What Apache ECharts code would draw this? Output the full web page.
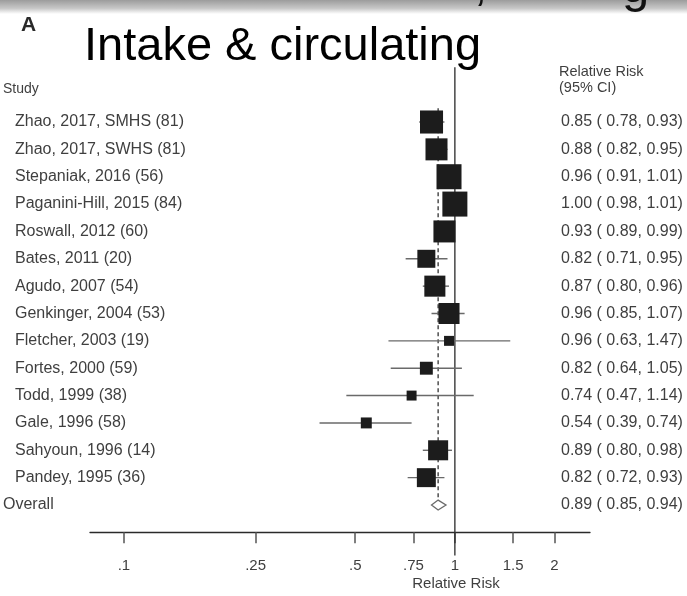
<!DOCTYPE html>
<html>
<head>
<meta charset="utf-8">
<script src="https://cdn.jsdelivr.net/npm/echarts@6/dist/echarts.min.js"></script>
<style>
  html, body { margin: 0; padding: 0; background: #fff; }
  #chart { width: 687px; height: 596px; }
</style>
</head>
<body>
<div id="chart"></div>
<script>
// Study labels, point estimates, 95% CI bounds and pooling weights (%)
const studies = [
  'Zhao, 2017, SMHS (81)', 'Zhao, 2017, SWHS (81)', 'Stepaniak, 2016 (56)',
  'Paganini-Hill, 2015 (84)', 'Roswall, 2012 (60)', 'Bates, 2011 (20)',
  'Agudo, 2007 (54)', 'Genkinger, 2004 (53)', 'Fletcher, 2003 (19)',
  'Fortes, 2000 (59)', 'Todd, 1999 (38)', 'Gale, 1996 (58)',
  'Sahyoun, 1996 (14)', 'Pandey, 1995 (36)'
];
const relRisk = [0.85, 0.88, 0.96, 1.00, 0.93, 0.82, 0.87, 0.96, 0.96, 0.82, 0.74, 0.54, 0.89, 0.82];
const ciLower = [0.78, 0.82, 0.91, 0.98, 0.89, 0.71, 0.80, 0.85, 0.63, 0.64, 0.47, 0.39, 0.80, 0.72];
const ciUpper = [0.93, 0.95, 1.01, 1.01, 0.99, 0.95, 0.96, 1.07, 1.47, 1.05, 1.14, 0.74, 0.98, 0.93];
const weights = [10.2, 9.3, 12.0, 12.0, 9.3, 6.2, 8.5, 8.5, 1.9, 3.2, 1.9, 2.3, 7.7, 6.9];

// Pooled estimate: [RR, lower, upper]
const overall = [0.89, 0.85, 0.94];
const nullValue = 1;

// Axis ticks
const tickValues = [0.1, 0.25, 0.5, 0.75, 1, 1.5, 2];
const tickLabels = ['.1', '.25', '.5', '.75', '1', '1.5', '2'];

const FONT = '"Liberation Sans", Arial, sans-serif';
const TEXT = '#3f3f3f';
const ROW_FONT = 16;
const fmt = v => v.toFixed(2);

const studyRows = studies.map((s, i) => [relRisk[i], ciLower[i], ciUpper[i], weights[i], i]);
const overallRow = studies.length;

const chart = echarts.init(document.getElementById('chart'), null, { renderer: 'canvas' });

chart.setOption({
  animation: false,
  backgroundColor: '#fff',
  grid: { left: 90, right: 97, top: 67.29, bottom: 63.64, containLabel: false },
  xAxis: {
    type: 'log',
    logBase: 10,
    min: 0.079,
    max: 2.56,
    position: 'bottom',
    axisLine: { show: true, onZero: false, lineStyle: { color: '#2a2a2a', width: 1.3 } },
    axisTick: {
      show: true,
      customValues: tickValues,
      length: 11,
      lineStyle: { color: '#555', width: 1.5 }
    },
    axisLabel: {
      show: true,
      customValues: tickValues,
      margin: 26,
      color: TEXT,
      fontSize: 15,
      fontFamily: FONT,
      formatter: v => {
        const k = tickValues.findIndex(t => Math.abs(t - v) < 1e-9);
        return k >= 0 ? tickLabels[k] : '';
      }
    },
    splitLine: { show: false },
    minorTick: { show: false }
  },
  yAxis: {
    type: 'value',
    inverse: true,
    min: -2,
    max: 15,
    show: false
  },
  series: [
    // reference line at RR = 1
    {
      type: 'custom',
      clip: false,
      silent: true,
      data: [[nullValue]],
      encode: { x: 0 },
      renderItem: (params, api) => {
        const a = api.coord([api.value(0), -2]);
        const b = api.coord([api.value(0), 15.85]);
        return {
          type: 'line',
          shape: { x1: a[0], y1: a[1], x2: b[0], y2: b[1] },
          style: { stroke: '#2a2a2a', lineWidth: 1.3 }
        };
      }
    },
    // dashed line at the pooled estimate
    {
      type: 'custom',
      clip: false,
      silent: true,
      data: [[overall[0]]],
      encode: { x: 0 },
      renderItem: (params, api) => {
        const a = api.coord([api.value(0), -0.5]);
        const b = api.coord([api.value(0), overallRow - 0.2]);
        return {
          type: 'line',
          shape: { x1: a[0], y1: a[1], x2: b[0], y2: b[1] },
          style: { stroke: '#333', lineWidth: 1.3, lineDash: [4, 3] }
        };
      }
    },
    // study rows: label, CI bar, weighted square, numeric summary
    {
      type: 'custom',
      clip: false,
      silent: true,
      data: studyRows,
      encode: { x: [0, 1, 2], y: 4 },
      renderItem: (params, api) => {
        const i = api.value(4);
        const p = api.coord([api.value(0), i]);
        const lo = api.coord([api.value(1), i]);
        const hi = api.coord([api.value(2), i]);
        const side = 7.22 * Math.sqrt(api.value(3));
        const k = params.dataIndex;
        return {
          type: 'group',
          children: [
            {
              type: 'line',
              shape: { x1: lo[0], y1: lo[1], x2: hi[0], y2: hi[1] },
              style: { stroke: '#6a6a6a', lineWidth: 1.4 }
            },
            {
              type: 'rect',
              shape: { x: p[0] - side / 2, y: p[1] - side / 2, width: side, height: side },
              style: { fill: '#1c1c1c' }
            },
            {
              type: 'text',
              style: {
                text: studies[k], x: 15, y: p[1],
                fill: TEXT, fontSize: ROW_FONT, fontFamily: FONT,
                align: 'left', verticalAlign: 'middle'
              }
            },
            {
              type: 'text',
              style: {
                text: fmt(relRisk[k]) + ' ( ' + fmt(ciLower[k]) + ', ' + fmt(ciUpper[k]) + ')',
                x: 561, y: p[1],
                fill: TEXT, fontSize: ROW_FONT, fontFamily: FONT,
                align: 'left', verticalAlign: 'middle'
              }
            }
          ]
        };
      }
    },
    // pooled estimate diamond
    {
      type: 'custom',
      clip: false,
      silent: true,
      data: [[overall[0], overall[1], overall[2], overallRow]],
      encode: { x: [0, 1, 2], y: 3 },
      renderItem: (params, api) => {
        const r = api.value(3);
        const c = api.coord([api.value(0), r]);
        const l = api.coord([api.value(1), r]);
        const h = api.coord([api.value(2), r]);
        const t = api.coord([api.value(0), r - 0.18]);
        const b = api.coord([api.value(0), r + 0.18]);
        return {
          type: 'group',
          children: [
            {
              type: 'polygon',
              shape: { points: [[l[0], c[1]], [t[0], t[1]], [h[0], c[1]], [b[0], b[1]]] },
              style: { fill: '#fff', stroke: '#6a6a6a', lineWidth: 1.3 }
            },
            {
              type: 'text',
              style: {
                text: 'Overall', x: 3, y: c[1],
                fill: TEXT, fontSize: ROW_FONT, fontFamily: FONT,
                align: 'left', verticalAlign: 'middle'
              }
            },
            {
              type: 'text',
              style: {
                text: fmt(overall[0]) + ' ( ' + fmt(overall[1]) + ', ' + fmt(overall[2]) + ')',
                x: 561, y: c[1],
                fill: TEXT, fontSize: ROW_FONT, fontFamily: FONT,
                align: 'left', verticalAlign: 'middle'
              }
            }
          ]
        };
      }
    }
  ],
  graphic: [
    // grey strip at the very top with the tail of the previous heading
    {
      type: 'rect',
      shape: { x: 0, y: 0, width: 687, height: 14 },
      style: {
        fill: new echarts.graphic.LinearGradient(0, 0, 0, 1, [
          { offset: 0, color: '#9c9c9c' },
          { offset: 0.6, color: '#c8c8c8' },
          { offset: 1, color: '#ffffff' }
        ])
      },
      z: 1
    },
    {
      type: 'text',
      style: { text: ',', x: 474, y: -13, fill: '#111', fontSize: 47, fontFamily: FONT, verticalAlign: 'middle' },
      z: 2
    },
    {
      type: 'text',
      style: { text: 'g', x: 622, y: -12, fill: '#111', fontSize: 49, fontFamily: FONT, verticalAlign: 'middle' },
      z: 2
    },
    {
      type: 'text',
      style: { text: 'A', x: 21, y: 25, fill: '#2a2a2a', fontSize: 21, fontWeight: 'bold', fontFamily: FONT, verticalAlign: 'middle' },
      z: 2
    },
    {
      type: 'text',
      style: { text: 'Intake & circulating', x: 84, y: 47, fill: '#000', fontSize: 47, fontFamily: FONT, verticalAlign: 'middle' },
      z: 2
    },
    {
      type: 'text',
      style: { text: 'Study', x: 3, y: 89, fill: TEXT, fontSize: 14, fontFamily: FONT, verticalAlign: 'middle' },
      z: 2
    },
    {
      type: 'text',
      style: { text: 'Relative Risk', x: 559, y: 72, fill: TEXT, fontSize: 14.5, fontFamily: FONT, verticalAlign: 'middle' },
      z: 2
    },
    {
      type: 'text',
      style: { text: '(95% CI)', x: 559, y: 88, fill: TEXT, fontSize: 14.5, fontFamily: FONT, verticalAlign: 'middle' },
      z: 2
    },
    {
      type: 'text',
      style: { text: 'Relative Risk', x: 456, y: 584, fill: TEXT, fontSize: 15, fontFamily: FONT, align: 'center', verticalAlign: 'middle' },
      z: 2
    }
  ]
});
</script>
</body>
</html>
